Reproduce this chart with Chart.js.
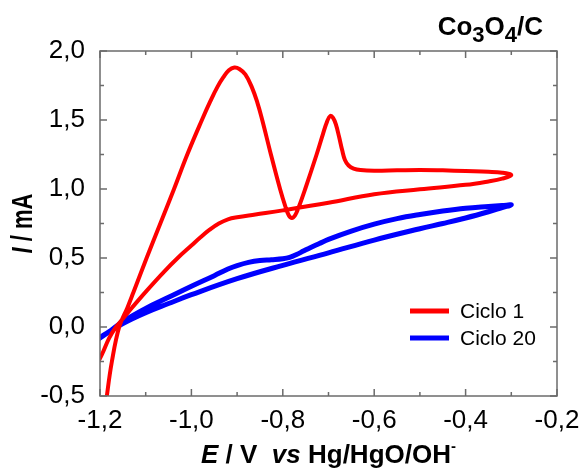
<!DOCTYPE html>
<html lang="es">
<head>
<meta charset="UTF-8">
<title>Co3O4/C - Ciclo 1 vs Ciclo 20</title>
<script src="https://cdn.jsdelivr.net/npm/chart.js"></script>
<style>
  body { margin: 0; background: #fff; }
  #wrap { width: 581px; height: 470px; }
</style>
</head>
<body>
<div id="wrap"><canvas id="cv" width="581" height="470"></canvas></div>
<script>
// E (V vs Hg/HgO/OH-) and I (mA), in sweep order
const ciclo1E = [-1.192, -1.185, -1.174, -1.158, -1.14, -1.127, -1.098, -1.068, -1.038, -1.009,
  -0.977, -0.958, -0.943, -0.93, -0.918, -0.906, -0.895, -0.882, -0.868, -0.856,
  -0.845, -0.826, -0.806, -0.795, -0.787, -0.780, -0.773, -0.765, -0.751, -0.726,
  -0.712, -0.703, -0.696, -0.690, -0.684, -0.677, -0.670, -0.664, -0.656, -0.645,
  -0.63, -0.6, -0.55, -0.5, -0.45, -0.4, -0.35, -0.32, -0.30,
  -0.32, -0.35, -0.4, -0.5, -0.6, -0.7, -0.8, -0.86, -0.9, -0.92,
  -0.94, -0.96, -0.98, -1.0, -1.03, -1.06, -1.1, -1.13, -1.15, -1.165,
  -1.18, -1.196, -1.21];
const ciclo1I = [-0.70, -0.50, -0.25, 0.0, 0.14, 0.25, 0.50, 0.75, 1.00, 1.25,
  1.50, 1.64, 1.74, 1.81, 1.86, 1.88, 1.87, 1.83, 1.74, 1.63,
  1.50, 1.25, 1.00, 0.88, 0.81, 0.79, 0.81, 0.87, 1.00, 1.25,
  1.40, 1.49, 1.53, 1.515, 1.47, 1.38, 1.28, 1.21, 1.17, 1.148,
  1.137, 1.132, 1.135, 1.138, 1.135, 1.13, 1.125, 1.118, 1.10,
  1.075, 1.055, 1.03, 0.998, 0.962, 0.90, 0.845, 0.815, 0.795, 0.78,
  0.75, 0.705, 0.65, 0.59, 0.50, 0.40, 0.255, 0.14, 0.06, 0.0,
  -0.08, -0.20, -0.29];

const ciclo20E = [-1.205, -1.18, -1.15, -1.1, -1.05, -1.0, -0.95, -0.92, -0.9, -0.875,
  -0.85, -0.825, -0.8, -0.785, -0.77, -0.755, -0.74, -0.72, -0.7, -0.65,
  -0.6, -0.55, -0.5, -0.45, -0.4, -0.35, -0.32, -0.30,
  -0.32, -0.35, -0.4, -0.45, -0.5, -0.6, -0.7, -0.8, -0.9, -1.0,
  -1.05, -1.1, -1.15, -1.205];
const ciclo20I = [-0.09, -0.035, 0.04, 0.135, 0.215, 0.295, 0.372, 0.42, 0.445, 0.468,
  0.482, 0.488, 0.495, 0.505, 0.525, 0.55, 0.575, 0.605, 0.635, 0.695,
  0.745, 0.785, 0.815, 0.84, 0.86, 0.873, 0.88, 0.885,
  0.865, 0.835, 0.79, 0.75, 0.712, 0.63, 0.537, 0.447, 0.35, 0.234,
  0.17, 0.104, 0.025, -0.085];

const seriesNames = ["Ciclo 1", "Ciclo 20"];
const xTicks = [-1.2, -1.0, -0.8, -0.6, -0.4, -0.2];
const yTicks = [-0.5, 0.0, 0.5, 1.0, 1.5, 2.0];

const FONT = "'Liberation Sans', Arial, sans-serif";
const toPoints = (xs, ys) => xs.map((x, i) => ({ x: x, y: ys[i] }));
const comma = v => Number(v).toFixed(1).replace(".", ",");
const mids = arr => arr.slice(1).map((v, i) => (v + arr[i]) / 2);

// draws a line of text made of pieces with different fonts
function drawRuns(ctx, runs, x, y, align) {
  let w = 0;
  runs.forEach(r => { ctx.font = r.font; w += ctx.measureText(r.text).width; });
  let cx = align === "center" ? x - w / 2 : (align === "right" ? x - w : x);
  ctx.textAlign = "left";
  ctx.textBaseline = "alphabetic";
  runs.forEach(r => {
    ctx.font = r.font;
    ctx.fillText(r.text, cx, y + (r.dy || 0));
    cx += ctx.measureText(r.text).width;
  });
}

// frame with inward major/minor ticks on all four sides
const frameTicks = {
  id: "frameTicks",
  afterDatasetsDraw(chart) {
    const { ctx, chartArea: a, scales: { x, y } } = chart;
    ctx.save();
    ctx.strokeStyle = "#6b6b6b";
    ctx.lineWidth = 1.5;
    ctx.strokeRect(a.left, a.top, a.right - a.left, a.bottom - a.top);
    ctx.beginPath();
    const xm = (vals, len) => vals.forEach(v => {
      const px = x.getPixelForValue(v);
      ctx.moveTo(px, a.bottom); ctx.lineTo(px, a.bottom - len);
      ctx.moveTo(px, a.top); ctx.lineTo(px, a.top + len);
    });
    const ym = (vals, len) => vals.forEach(v => {
      const py = y.getPixelForValue(v);
      ctx.moveTo(a.left, py); ctx.lineTo(a.left + len, py);
      ctx.moveTo(a.right, py); ctx.lineTo(a.right - len, py);
    });
    xm(xTicks, 7); xm(mids(xTicks), 4);
    ym(yTicks, 7); ym(mids(yTicks), 4);
    ctx.stroke();
    ctx.restore();
  }
};

// titles, sample label and legend inside the plot
const labels = {
  id: "labels",
  afterDraw(chart) {
    const { ctx, chartArea: a } = chart;
    ctx.save();
    ctx.fillStyle = "#000";

    drawRuns(ctx, [
      { text: "Co", font: "bold 26px " + FONT },
      { text: "3", font: "bold 22px " + FONT, dy: 7 },
      { text: "O", font: "bold 26px " + FONT },
      { text: "4", font: "bold 22px " + FONT, dy: 7 },
      { text: "/C", font: "bold 26px " + FONT }
    ], 543, 35, "right");

    drawRuns(ctx, [
      { text: "E", font: "italic bold 26px " + FONT },
      { text: " / V  ", font: "bold 26px " + FONT },
      { text: "vs", font: "italic bold 26px " + FONT },
      { text: " Hg/HgO/OH", font: "bold 26px " + FONT },
      { text: "-", font: "bold 15px " + FONT, dy: -12 }
    ], (a.left + a.right) / 2, 463, "center");

    ctx.save();
    ctx.translate(32, (a.top + a.bottom) / 2);
    ctx.rotate(-Math.PI / 2);
    ctx.scale(1, 1.3);
    drawRuns(ctx, [
      { text: "I", font: "italic bold 22px " + FONT },
      { text: " / mA", font: "bold 22px " + FONT }
    ], 0, 0, "center");
    ctx.restore();

    chart.data.datasets.forEach((ds, i) => {
      const ly = 311 + i * 27;
      ctx.strokeStyle = ds.borderColor;
      ctx.lineWidth = 5;
      ctx.beginPath();
      ctx.moveTo(410, ly);
      ctx.lineTo(449, ly);
      ctx.stroke();
      ctx.font = "21px " + FONT;
      ctx.textAlign = "left";
      ctx.textBaseline = "alphabetic";
      ctx.fillText(ds.label, 460, ly + 7);
    });
    ctx.restore();
  }
};

new Chart(document.getElementById("cv"), {
  type: "scatter",
  data: {
    datasets: [
      {
        label: seriesNames[0],
        data: toPoints(ciclo1E, ciclo1I),
        showLine: true,
        borderColor: "#ff0000",
        borderWidth: 4,
        pointRadius: 0,
        tension: 0.4,
        clip: 0
      },
      {
        label: seriesNames[1],
        data: toPoints(ciclo20E, ciclo20I),
        showLine: true,
        borderColor: "#0000ff",
        borderWidth: 5,
        pointRadius: 0,
        tension: 0.4,
        clip: 0
      }
    ]
  },
  plugins: [frameTicks, labels],
  options: {
    responsive: false,
    animation: false,
    events: [],
    layout: { padding: { top: 51, right: 24, left: 0, bottom: 0 } },
    plugins: { legend: { display: false }, tooltip: { enabled: false } },
    scales: {
      x: {
        type: "linear",
        min: -1.2,
        max: -0.2,
        afterBuildTicks: s => { s.ticks = xTicks.map(v => ({ value: v })); },
        afterFit: s => { s.height = 74; s.paddingLeft = 0; s.paddingRight = 0; },
        grid: { display: false },
        border: { display: false },
        ticks: { callback: comma, color: "#000", padding: 1, maxRotation: 0, font: { family: FONT, size: 26 } }
      },
      y: {
        type: "linear",
        min: -0.5,
        max: 2.0,
        afterBuildTicks: s => { s.ticks = yTicks.map(v => ({ value: v })); },
        afterFit: s => { s.width = 100; s.paddingTop = 0; s.paddingBottom = 0; },
        grid: { display: false },
        border: { display: false },
        ticks: { callback: comma, color: "#000", padding: 7, font: { family: FONT, size: 26 } }
      }
    }
  }
});
</script>
</body>
</html>
